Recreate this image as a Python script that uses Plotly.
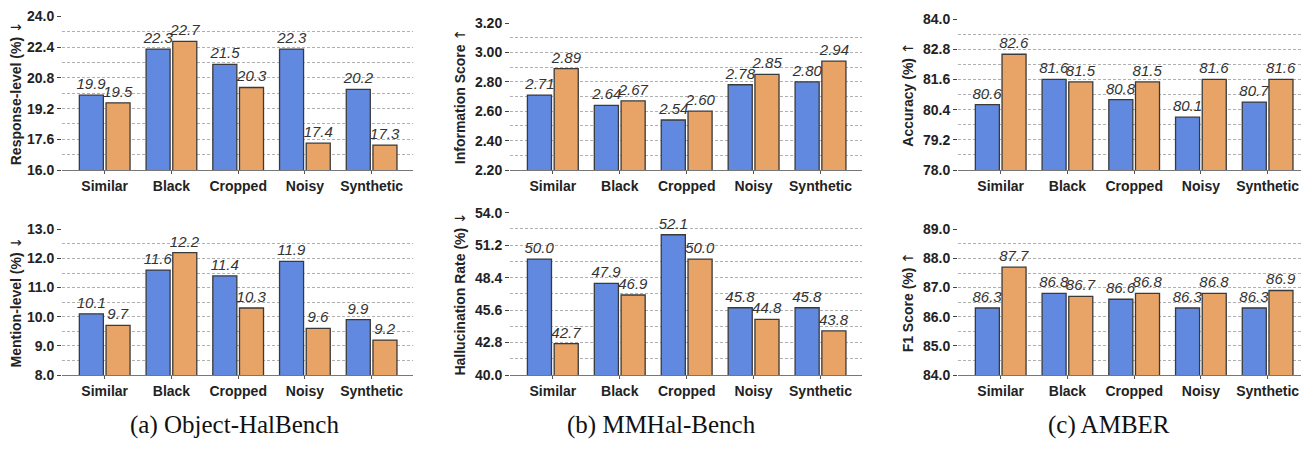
import plotly.graph_objects as go

REF_W, REF_H = 1309, 450
OFF = 8  # page body margin in the browser
W, H = REF_W - OFF, REF_H - OFF

categories = ["Similar", "Black", "Cropped", "Noisy", "Synthetic"]

# (a) Object-HalBench
obj_response_blue = [19.9, 22.3, 21.5, 22.3, 20.2]
obj_response_orange = [19.5, 22.7, 20.3, 17.4, 17.3]
obj_mention_blue = [10.1, 11.6, 11.4, 11.9, 9.9]
obj_mention_orange = [9.7, 12.2, 10.3, 9.6, 9.2]

# (b) MMHal-Bench
mmhal_info_blue = [2.71, 2.64, 2.54, 2.78, 2.80]
mmhal_info_orange = [2.89, 2.67, 2.60, 2.85, 2.94]
mmhal_hall_blue = [50.0, 47.9, 52.1, 45.8, 45.8]
mmhal_hall_orange = [42.7, 46.9, 50.0, 44.8, 43.8]

# (c) AMBER
amber_acc_blue = [80.6, 81.6, 80.8, 80.1, 80.7]
amber_acc_orange = [82.6, 81.5, 81.5, 81.6, 81.6]
amber_f1_blue = [86.3, 86.8, 86.6, 86.3, 86.3]
amber_f1_orange = [87.7, 86.7, 86.8, 86.8, 86.9]

captions = ["(a) Object-HalBench", "(b) MMHal-Bench", "(c) AMBER"]

BLUE = "#6189E0"
ORANGE = "#E8A366"
EDGE = "#3a3a3a"
GRID = "#b0b0b0"
FONT = "Liberation Sans"
DOWN = '<span style="font-family:DejaVu Sans;font-weight:normal">↓</span>'
UP = '<span style="font-family:DejaVu Sans;font-weight:normal">↑</span>'


def px_x(x):
    return (x - OFF) / W


def px_y(y):
    return 1 - (y - OFF) / H


panels = [
    dict(title="Response-level (%) " + DOWN, b=obj_response_blue, o=obj_response_orange, rng=[16, 24], dtick=1.6, fmt=".1f"),
    dict(title="Information Score " + UP, b=mmhal_info_blue, o=mmhal_info_orange, rng=[2.2, 3.2], dtick=0.2, fmt=".2f"),
    dict(title="Accuracy (%) " + UP, b=amber_acc_blue, o=amber_acc_orange, rng=[78, 84], dtick=1.2, fmt=".1f"),
    dict(title="Mention-level (%) " + DOWN, b=obj_mention_blue, o=obj_mention_orange, rng=[8, 13], dtick=1.0, fmt=".1f"),
    dict(title="Hallucination Rate (%) " + DOWN, b=mmhal_hall_blue, o=mmhal_hall_orange, rng=[40, 54], dtick=2.8, fmt=".1f"),
    dict(title="F1 Score (%) " + UP, b=amber_f1_blue, o=amber_f1_orange, rng=[84, 89], dtick=1.0, fmt=".1f"),
]

x_px = [[62, 413], [510, 862], [958, 1309]]
y_tops = [16.5, 23, 19, 229.3, 212.7, 229.3]
y_bottoms = [170, 170, 170, 375, 375, 375]

fig = go.Figure()
layout = {}
for i, p in enumerate(panels):
    k = i + 1
    xa = "x" if k == 1 else f"x{k}"
    ya = "y" if k == 1 else f"y{k}"
    for vals, col, nm in [(p["b"], BLUE, "Baseline"), (p["o"], ORANGE, "Ours")]:
        fig.add_trace(go.Bar(
            x=categories, y=vals, name=nm, xaxis=xa, yaxis=ya,
            marker=dict(color=col, line=dict(color=EDGE, width=1.3)),
            texttemplate="%{y:" + p["fmt"] + "}", textposition="outside",
            textangle=0, constraintext="none", cliponaxis=False,
            textfont=dict(family=FONT, size=15, color="#333333", style="italic"),
            showlegend=False,
        ))
    c = i % 3
    dom_x = [max(0.0, px_x(x_px[c][0])), min(1.0, px_x(x_px[c][1]))]
    dom_y = [px_y(y_bottoms[i]), px_y(y_tops[i])]
    xkey = "xaxis" if k == 1 else f"xaxis{k}"
    ykey = "yaxis" if k == 1 else f"yaxis{k}"
    layout[xkey] = dict(
        domain=dom_x, anchor=ya, type="category", automargin=False,
        range=[-0.64, 4.62], showline=True, linecolor="#777777", linewidth=1.3,
        ticks="outside", ticklen=3, tickcolor="#555555", showgrid=False,
        ticklabeloverflow="allow",
        tickfont=dict(family=FONT, size=14, color="#222222", weight="bold"),
    )
    layout[ykey] = dict(
        domain=dom_y, anchor=xa, range=p["rng"], dtick=p["dtick"], tick0=p["rng"][0],
        tickformat=p["fmt"], showline=False, zeroline=False, automargin=False,
        ticks="outside", ticklen=4, tickcolor="#444444", ticklabeloverflow="allow",
        showgrid=True, gridcolor=GRID, griddash="3px,2px", gridwidth=0.8,
        minor=dict(dtick=p["dtick"] / 2, tick0=p["rng"][0], showgrid=True,
                   gridcolor=GRID, griddash="3px,2px", gridwidth=0.8),
        tickfont=dict(family=FONT, size=14, color="#222222", weight="bold"),
        title=dict(text=p["title"], standoff=6,
                   font=dict(family=FONT, size=14, color="#222222", weight="bold")),
    )

annotations = []
for cap, cx in zip(captions, [234, 661, 1109]):
    annotations.append(dict(
        text=cap, x=px_x(cx), y=px_y(425), xref="paper", yref="paper",
        xanchor="center", yanchor="middle", showarrow=False,
        font=dict(family="Liberation Serif", size=25, color="#111111"),
    ))

fig.update_layout(
    width=W, height=H, margin=dict(l=0, r=0, t=0, b=0),
    paper_bgcolor="white", plot_bgcolor="white",
    barmode="group", bargap=0.2, bargroupgap=0.1,
    annotations=annotations, **layout,
)

fig.write_html("out.html")
